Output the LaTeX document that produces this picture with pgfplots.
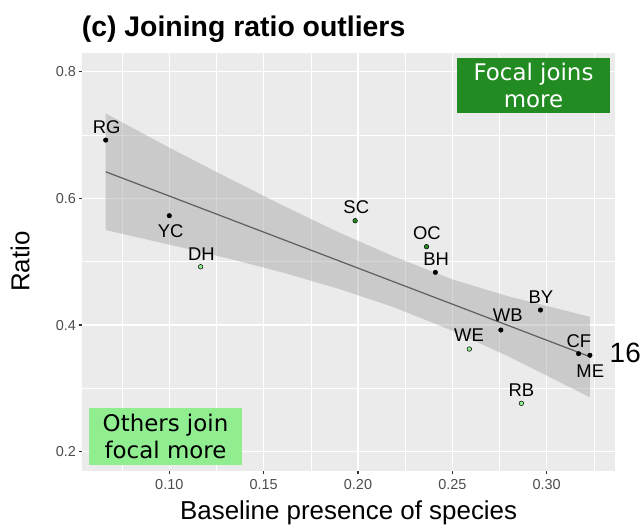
\documentclass[border=0pt]{standalone}
\usepackage{pgfplots}
\pgfplotsset{compat=1.18}
\usepackage{fontspec}
\setmainfont{Liberation Sans}
\newfontfamily\boxfont{DejaVu Sans}
\definecolor{panel}{HTML}{EBEBEB}
\definecolor{tickgray}{HTML}{4D4D4D}
\definecolor{darkgreen}{HTML}{228B22}
\definecolor{lightgreen}{HTML}{90EE90}
\definecolor{bandgray}{HTML}{999999}
\definecolor{linegray}{HTML}{5E5E5E}
\begin{document}
\begin{tikzpicture}[x=1bp,y=1bp]
\useasboundingbox (0,0) rectangle (642,529);
\node[anchor=base west, font=\bfseries\fontsize{28.5}{32}\selectfont, inner sep=0pt] at (81.7,492) {(c) Joining ratio outliers};
\begin{axis}[
  at={(82.3bp,58.3bp)}, anchor=south west,
  scale only axis, width=532.7bp, height=418bp,
  xmin=0.0539, xmax=0.3362, ymin=0.170, ymax=0.830,
  axis background/.style={fill=panel},
  axis line style={draw=none},
  xtick={0.10,0.15,0.20,0.25,0.30}, xticklabels={0.10,0.15,0.20,0.25,0.30},
  ytick={0.2,0.4,0.6,0.8}, yticklabels={0.2,0.4,0.6,0.8},
  minor xtick={0.075,0.125,0.175,0.225,0.275,0.325},
  minor ytick={0.3,0.5,0.7},
  grid=both,
  major grid style={white, line width=1.1bp},
  minor grid style={white, line width=0.55bp},
  tick align=outside, major tick length=3.7bp, minor tick length=0pt,
  tick style={color=black!80, line width=1.1bp},
  xtick pos=lower, ytick pos=left,
  xticklabel style={font=\fontsize{14.5}{17}\selectfont, text=tickgray, anchor=north, inner sep=0pt, yshift=-4.5bp},
  yticklabel style={font=\fontsize{14.5}{17}\selectfont, text=tickgray, anchor=east, inner sep=0pt, xshift=-2.5bp},
  xlabel={Baseline presence of species},
  ylabel={Ratio},
  xlabel style={font=\fontsize{26}{30}\selectfont, at={(axis description cs:0.5,0)}, anchor=center, yshift=-42.3bp},
  ylabel style={font=\fontsize{26}{30}\selectfont, at={(axis description cs:0,0.5)}, anchor=center, yshift=62.3bp},
  clip=false,
]
% confidence band
\addplot[draw=none, fill=bandgray, fill opacity=0.4] coordinates {
 (0.0663,0.734) (0.10,0.680) (0.13,0.634) (0.16,0.589) (0.19,0.546) (0.22,0.507) (0.25,0.472) (0.28,0.445) (0.3229,0.413)
 (0.3229,0.286) (0.28,0.350) (0.25,0.391) (0.22,0.427) (0.19,0.457) (0.16,0.483) (0.13,0.506) (0.10,0.527) (0.0663,0.550)
} -- cycle;
% regression line
\addplot[linegray, line width=1.2bp] coordinates {(0.0663,0.642) (0.3229,0.350)};
% black points
\addplot[only marks, mark=*, mark size=2.3bp, mark options={fill=black, draw=black}] coordinates {
 (0.0663,0.692) (0.1000,0.5726) (0.2410,0.4832) (0.2967,0.4237) (0.2757,0.3921) (0.3169,0.3547) (0.3229,0.3522)
};
% dark green points
\addplot[only marks, mark=*, mark size=2.3bp, mark options={fill=darkgreen, draw=black, line width=0.5bp}] coordinates {
 (0.1985,0.5647) (0.2363,0.5237)
};
% light green points
\addplot[only marks, mark=*, mark size=2.3bp, mark options={fill=lightgreen, draw=black, line width=0.5bp}] coordinates {
 (0.1166,0.492) (0.2590,0.3621) (0.2866,0.2764)
};
% point labels
\begin{scope}[every node/.style={font=\fontsize{18.5}{21}\selectfont, inner sep=0pt}]
\node at (axis cs:0.0668,0.7132) {RG};
\node at (axis cs:0.1007,0.5485) {YC};
\node at (axis cs:0.1170,0.5121) {DH};
\node at (axis cs:0.1991,0.5859) {SC};
\node at (axis cs:0.2365,0.5448) {OC};
\node at (axis cs:0.2414,0.5038) {BH};
\node at (axis cs:0.2969,0.4438) {BY};
\node at (axis cs:0.2794,0.4163) {WB};
\node at (axis cs:0.2588,0.3838) {WE};
\node at (axis cs:0.3171,0.3752) {CF};
\node at (axis cs:0.3231,0.3279) {ME};
\node at (axis cs:0.2866,0.2974) {RB};
\end{scope}
\node[anchor=west, inner sep=0pt, font=\fontsize{28}{30}\selectfont] at (axis cs:0.3333,0.3553) {16};
% annotation boxes
\node[fill=darkgreen, text=white, align=center, minimum width=153.3bp, minimum height=55.6bp, inner sep=0pt,
      font=\boxfont\fontsize{23}{26.4}\selectfont] at (axis cs:0.2930,0.7782) {Focal joins\\more};
\node[fill=lightgreen, text=black, align=center, minimum width=152.4bp, minimum height=57bp, inner sep=0pt,
      font=\boxfont\fontsize{23}{26.4}\selectfont] at (axis cs:0.0980,0.2240) {Others join\\focal more};
\end{axis}
\end{tikzpicture}
\end{document}
